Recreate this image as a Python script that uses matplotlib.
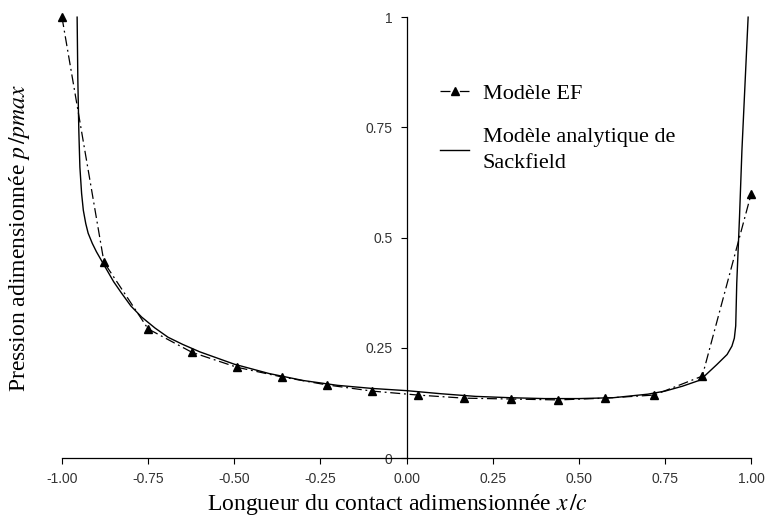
import matplotlib
matplotlib.use("Agg")
import matplotlib.pyplot as plt
from matplotlib.ticker import FuncFormatter

# Modèle EF (points éléments finis)
ef_x = [-1.0, -0.878, -0.75, -0.623, -0.492, -0.361, -0.231, -0.10, 0.033,
        0.167, 0.303, 0.44, 0.576, 0.718, 0.858, 1.0]
ef_y = [1.0, 0.444, 0.293, 0.240, 0.206, 0.184, 0.166, 0.152, 0.143,
        0.136, 0.134, 0.132, 0.136, 0.143, 0.186, 0.60]

# Modèle analytique de Sackfield
sack_x = [-0.956, -0.954, -0.951, -0.948, -0.943, -0.938, -0.931, -0.924, -0.912,
          -0.90, -0.881, -0.85, -0.827, -0.80, -0.769, -0.73, -0.692, -0.65,
          -0.6, -0.5, -0.4, -0.3, -0.2, -0.1, 0.0, 0.1, 0.2, 0.3, 0.4, 0.5,
          0.6, 0.7, 0.75, 0.8, 0.852, 0.9, 0.93, 0.944, 0.951, 0.955, 0.958,
          0.966, 0.973, 0.991]
sack_y = [1.0, 0.86, 0.74, 0.66, 0.60, 0.562, 0.532, 0.51, 0.487,
          0.468, 0.442, 0.40, 0.374, 0.345, 0.32, 0.295, 0.274, 0.258,
          0.241, 0.213, 0.192, 0.176, 0.165, 0.158, 0.153, 0.146, 0.140,
          0.137, 0.135, 0.135, 0.137, 0.145, 0.152, 0.163, 0.177, 0.212,
          0.235, 0.254, 0.272, 0.30, 0.397, 0.547, 0.698, 1.0]

x_ticks = [-1.0, -0.75, -0.5, -0.25, 0.0, 0.25, 0.5, 0.75, 1.0]
y_ticks = [0, 0.25, 0.5, 0.75, 1]

plt.rcParams['font.family'] = ['Liberation Serif', 'DejaVu Serif']
plt.rcParams['mathtext.fontset'] = 'stix'

fig = plt.figure(figsize=(7.65, 5.2), dpi=100)
ax = fig.add_axes([0.081, 0.119, 0.901, 0.848])

ax.plot(ef_x, ef_y, color='black', linestyle=(0, (8, 3, 1.5, 3)), linewidth=0.9,
        marker='^', markersize=6, markerfacecolor='black', markeredgecolor='black',
        label='Modèle EF', clip_on=False, zorder=3)
ax.plot(sack_x, sack_y, color='black', linewidth=1.0,
        label='Modèle analytique de\nSackfield', clip_on=False)

ax.set_xlim(-1, 1)
ax.set_ylim(0, 1)

# axe y centré en x = 0
ax.spines['left'].set_position(('data', 0))
ax.spines['right'].set_visible(False)
ax.spines['top'].set_visible(False)
for s in ['left', 'bottom']:
    ax.spines[s].set_linewidth(0.9)

ax.set_xticks(x_ticks)
ax.set_yticks(y_ticks)
ax.xaxis.set_major_formatter(FuncFormatter(lambda v, p: '%.2f' % v))
ax.yaxis.set_major_formatter(FuncFormatter(lambda v, p: '%g' % v))
ax.tick_params(axis='both', direction='out', length=4, width=0.8,
               labelsize=10, labelcolor='#333333', pad=6)
for lab in ax.get_xticklabels() + ax.get_yticklabels():
    lab.set_family(['Liberation Sans', 'DejaVu Sans'])

ax.set_xlabel('Longueur du contact adimensionnée $x\\,/c$', fontsize=17, labelpad=4)
ax.xaxis.label.set_x(0.487)
ax.set_ylabel('Pression adimensionnée $p\\,/pmax$', fontsize=17)
ax.yaxis.set_label_coords(-0.044, 0.5)

leg = ax.legend(loc='upper left', bbox_to_anchor=(0.52, 0.895), frameon=False,
                fontsize=16, handlelength=1.3, handletextpad=0.6, labelspacing=1.1)
for t in leg.get_texts():
    t.set_linespacing(1.5)

fig.savefig('out.png', dpi=100)
